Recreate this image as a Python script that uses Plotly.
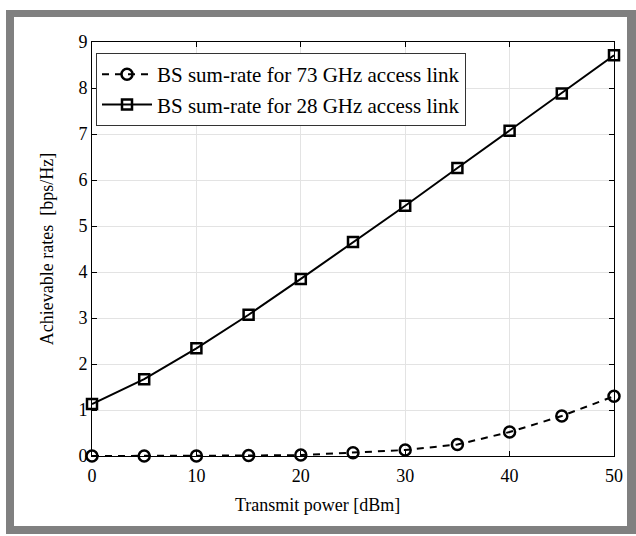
import plotly.graph_objects as go

# Transmit power sweep and the resulting BS sum-rates
power_dbm = [0, 5, 10, 15, 20, 25, 30, 35, 40, 45, 50]
rate_73ghz = [0.0, 0.0, 0.0, 0.01, 0.02, 0.07, 0.13, 0.25, 0.52, 0.87, 1.30]
rate_28ghz = [1.13, 1.67, 2.34, 3.07, 3.85, 4.65, 5.44, 6.26, 7.07, 7.88, 8.71]

x_ticks = [0, 10, 20, 30, 40, 50]
y_ticks = [0, 1, 2, 3, 4, 5, 6, 7, 8, 9]

x_title = "Transmit power [dBm]"
y_title = "Achievable rates  [bps/Hz]"

FONT = "Liberation Serif, Times New Roman, serif"

fig = go.Figure()
fig.add_trace(go.Scatter(
    x=power_dbm, y=rate_73ghz, mode="lines+markers",
    name="BS sum-rate for 73 GHz access link",
    line=dict(color="black", width=2, dash="7px,6px"),
    marker=dict(symbol="circle-open", size=11, color="black",
                line=dict(width=2.5, color="black")),
    cliponaxis=False,
))
fig.add_trace(go.Scatter(
    x=power_dbm, y=rate_28ghz, mode="lines+markers",
    name="BS sum-rate for 28 GHz access link",
    line=dict(color="black", width=2),
    marker=dict(symbol="square-open", size=10, color="black",
                line=dict(width=2.5, color="black")),
    cliponaxis=False,
))

L, R, T, B = 92, 22, 42, 80
W, H = 636, 536
pw, ph = W - L - R, H - T - B


def px_x(p):
    return (p - L) / pw


def px_y(p):
    return (H - B - p) / ph


# grey frame around the white figure area
fig.add_shape(type="rect", xref="paper", yref="paper", layer="below",
              x0=px_x(6), x1=px_x(636), y0=px_y(534), y1=px_y(10),
              fillcolor="#808080", line=dict(width=0))
fig.add_shape(type="rect", xref="paper", yref="paper", layer="below",
              x0=px_x(14), x1=px_x(627), y0=px_y(526), y1=px_y(17),
              fillcolor="white", line=dict(width=0))

axis_common = dict(
    showline=True, linecolor="black", linewidth=1, mirror="ticks",
    ticks="inside", ticklen=5, tickcolor="black", tickwidth=1,
    showgrid=True, gridcolor="#e3e3e3", gridwidth=1, zeroline=False,
    tickfont=dict(family=FONT, size=18, color="black"),
)

fig.update_xaxes(range=[0, 50], tickvals=x_ticks, ticklabelstandoff=3,
                 **axis_common)
fig.update_yaxes(
    range=[0, 9], tickvals=y_ticks,
    title=dict(text=y_title,
               font=dict(family=FONT, size=18, color="black"), standoff=20),
    **axis_common,
)

# x-axis label is centred on the figure rather than on the axes
fig.add_annotation(
    text=x_title, xref="paper", yref="paper",
    x=px_x(317), y=px_y(505), xanchor="center", yanchor="middle",
    showarrow=False, font=dict(family=FONT, size=18, color="black"),
)

fig.update_layout(
    width=W, height=H,
    margin=dict(l=L, r=R, t=T, b=B),
    paper_bgcolor="white", plot_bgcolor="white",
    font=dict(family=FONT, color="black"),
    legend=dict(
        x=px_x(96), y=px_y(53), xanchor="left", yanchor="top",
        bgcolor="white", bordercolor="#333333", borderwidth=1,
        font=dict(family=FONT, size=21, color="black"),
        itemwidth=50, tracegroupgap=0,
    ),
    showlegend=True,
)

fig.write_html("out.html")
